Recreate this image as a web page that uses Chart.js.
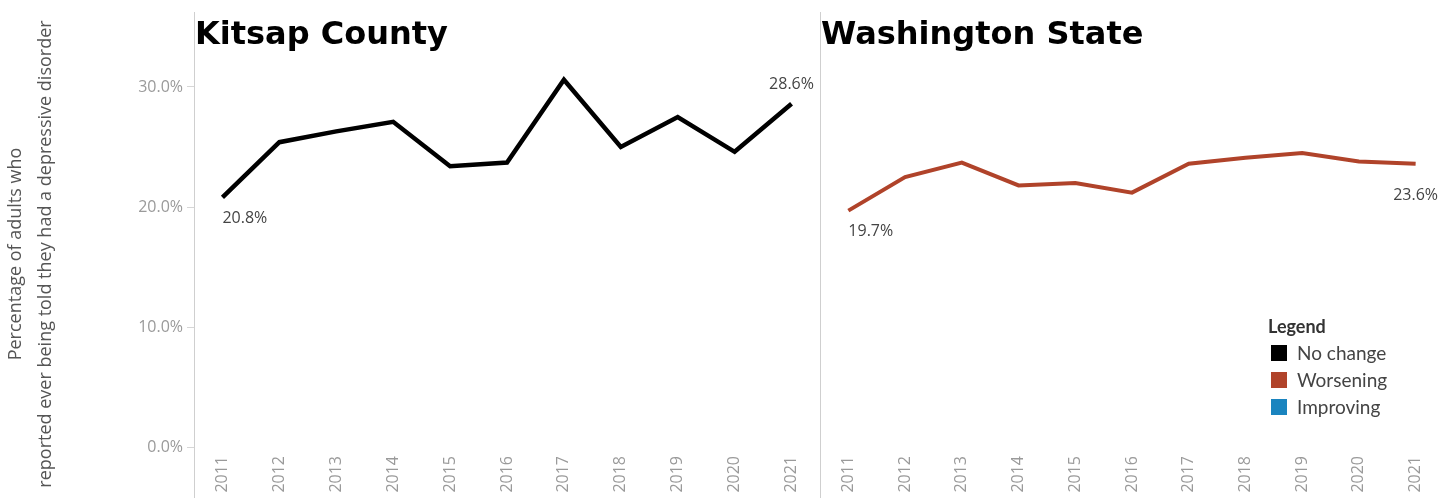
<!DOCTYPE html>
<html>
<head>
<meta charset="utf-8">
<script src="https://cdn.jsdelivr.net/npm/chart.js@4"></script>
<style>
  html, body { margin: 0; padding: 0; background: #fff; }
  #wrap { position: relative; width: 1444px; height: 498px; overflow: hidden; }
  #leftBox  { position: absolute; left: 0;   top: 0; width: 820px; height: 498px; }
  #rightBox { position: absolute; left: 820px; top: 0; width: 624px; height: 498px; }
  .panelTitle { position: absolute; top: 14px; font: bold 32px "DejaVu Sans", sans-serif; color: #000; white-space: nowrap; }
  #legend { position: absolute; left: 1268px; top: 315px; font-family: Lato, "Open Sans", sans-serif; color: #444; }
  #legend .head { font-weight: bold; font-size: 18px; color: #333; margin-bottom: 2px; }
  #legend .item { font-size: 19px; line-height: 27px; display: flex; align-items: center; }
  #legend .sw { display: inline-block; width: 16px; height: 16px; margin: 0 10px 0 3px; }
</style>
</head>
<body>
<div id="wrap">
  <div id="leftBox"><canvas id="kitsapChart"></canvas></div>
  <div id="rightBox"><canvas id="waChart"></canvas></div>
  <div class="panelTitle" style="left:195px">Kitsap County</div>
  <div class="panelTitle" style="left:821px">Washington State</div>
  <ul id="legend" style="list-style:none;margin:0;padding:0"></ul>
</div>
<script>
// data
const years = ['2011','2012','2013','2014','2015','2016','2017','2018','2019','2020','2021'];
const kitsapValues = [20.8, 25.4, 26.3, 27.1, 23.4, 23.7, 30.6, 25.0, 27.5, 24.6, 28.6];
const waValues     = [19.7, 22.5, 23.7, 21.8, 22.0, 21.2, 23.6, 24.1, 24.5, 23.8, 23.6];
const yTickValues  = [0, 10, 20, 30];
const yAxisTitle   = ['Percentage of adults who', 'reported ever being told they had a depressive disorder'];
const legendLabels = ['No change', 'Worsening', 'Improving'];
const legendColors = ['#000000', '#b0432a', '#1a84bf'];

(function(){
  // labels on first / last point, offsets in px
  const endLabels = {
    id: 'endLabels',
    afterDatasetsDraw(chart, args, opts) {
      const ctx = chart.ctx;
      const meta = chart.getDatasetMeta(0);
      const data = chart.data.datasets[0].data;
      ctx.save();
      ctx.font = '16px "Open Sans", sans-serif';
      ctx.fillStyle = '#444';
      ctx.textBaseline = 'middle';
      (opts.items || []).forEach(it => {
        const p = meta.data[it.index];
        ctx.textAlign = it.align;
        ctx.fillText(data[it.index].toFixed(1) + '%', p.x + it.dx, p.y + it.dy);
      });
      ctx.restore();
    }
  };

  // full-height divider line at the left edge of the plot
  const divider = {
    id: 'divider',
    beforeDraw(chart) {
      const ctx = chart.ctx, x = Math.round(chart.chartArea.left) + 0.5;
      ctx.save();
      ctx.strokeStyle = '#cfcfcf';
      ctx.lineWidth = 1;
      ctx.beginPath();
      ctx.moveTo(x, 12);
      ctx.lineTo(x, chart.height);
      ctx.stroke();
      ctx.restore();
    }
  };

  // two-line rotated y title, centred a bit lower than the plot like the original
  const yTitle = {
    id: 'yTitle',
    afterDraw(chart, args, opts) {
      if (!opts.lines) return;
      const ctx = chart.ctx;
      ctx.save();
      ctx.font = '18px "Open Sans", sans-serif';
      ctx.fillStyle = '#555';
      ctx.textAlign = 'center';
      ctx.textBaseline = 'middle';
      opts.lines.forEach((txt, i) => {
        ctx.save();
        ctx.translate(16 + i * 30, 254);
        ctx.rotate(-Math.PI / 2);
        ctx.fillText(txt, 0, 0);
        ctx.restore();
      });
      ctx.restore();
    }
  };

  function makeChart(canvasId, values, color, width, showY, labelItems) {
    return new Chart(document.getElementById(canvasId), {
      type: 'line',
      data: {
        labels: years,
        datasets: [{ data: values, borderColor: color, borderWidth: width, pointRadius: 0, tension: 0, fill: false }]
      },
      options: {
        responsive: true,
        maintainAspectRatio: false,
        animation: false,
        layout: { padding: { top: 15, left: 0, right: 0, bottom: 0 } },
        plugins: {
          legend: { display: false },
          tooltip: { enabled: false },
          endLabels: { items: labelItems },
          yTitle: { lines: showY ? yAxisTitle : null }
        },
        scales: {
          x: {
            offset: true,
            grid: { display: false },
            border: { display: false },
            ticks: {
              minRotation: 90, maxRotation: 90, padding: 1,
              color: '#9a9a9a', font: { family: 'Open Sans', size: 16 }
            },
            afterFit(s) { s.height = 51; }
          },
          y: {
            display: showY,
            min: 0, max: 36,
            afterBuildTicks(s) { s.ticks = yTickValues.map(v => ({ value: v })); },
            afterFit(s) { s.width = showY ? 194 : 0; },
            grid: { drawOnChartArea: false, tickLength: 7, color: '#d6d6d6' },
            border: { display: false },
            ticks: {
              padding: 4, color: '#9a9a9a', font: { family: 'Open Sans', size: 16 },
              callback: v => v.toFixed(1) + '%'
            }
          }
        }
      },
      plugins: [endLabels, divider, yTitle]
    });
  }

  makeChart('kitsapChart', kitsapValues, '#000000', 4.5, true, [
    { index: 0, align: 'left', dx: 0, dy: 21 },
    { index: 10, align: 'center', dx: 0, dy: -19 }
  ]);
  makeChart('waChart', waValues, legendColors[1], 4, false, [
    { index: 0, align: 'left', dx: 0, dy: 21 },
    { index: 10, align: 'center', dx: 0, dy: 32 }
  ]);

  // legend box
  const legendEl = document.getElementById('legend');
  legendEl.innerHTML = '<li class="head">Legend</li>' + legendLabels.map((lab, i) =>
    `<li class="item"><span class="sw" style="background:${legendColors[i]}"></span>${lab}</li>`
  ).join('');
})();
</script>
</body>
</html>
